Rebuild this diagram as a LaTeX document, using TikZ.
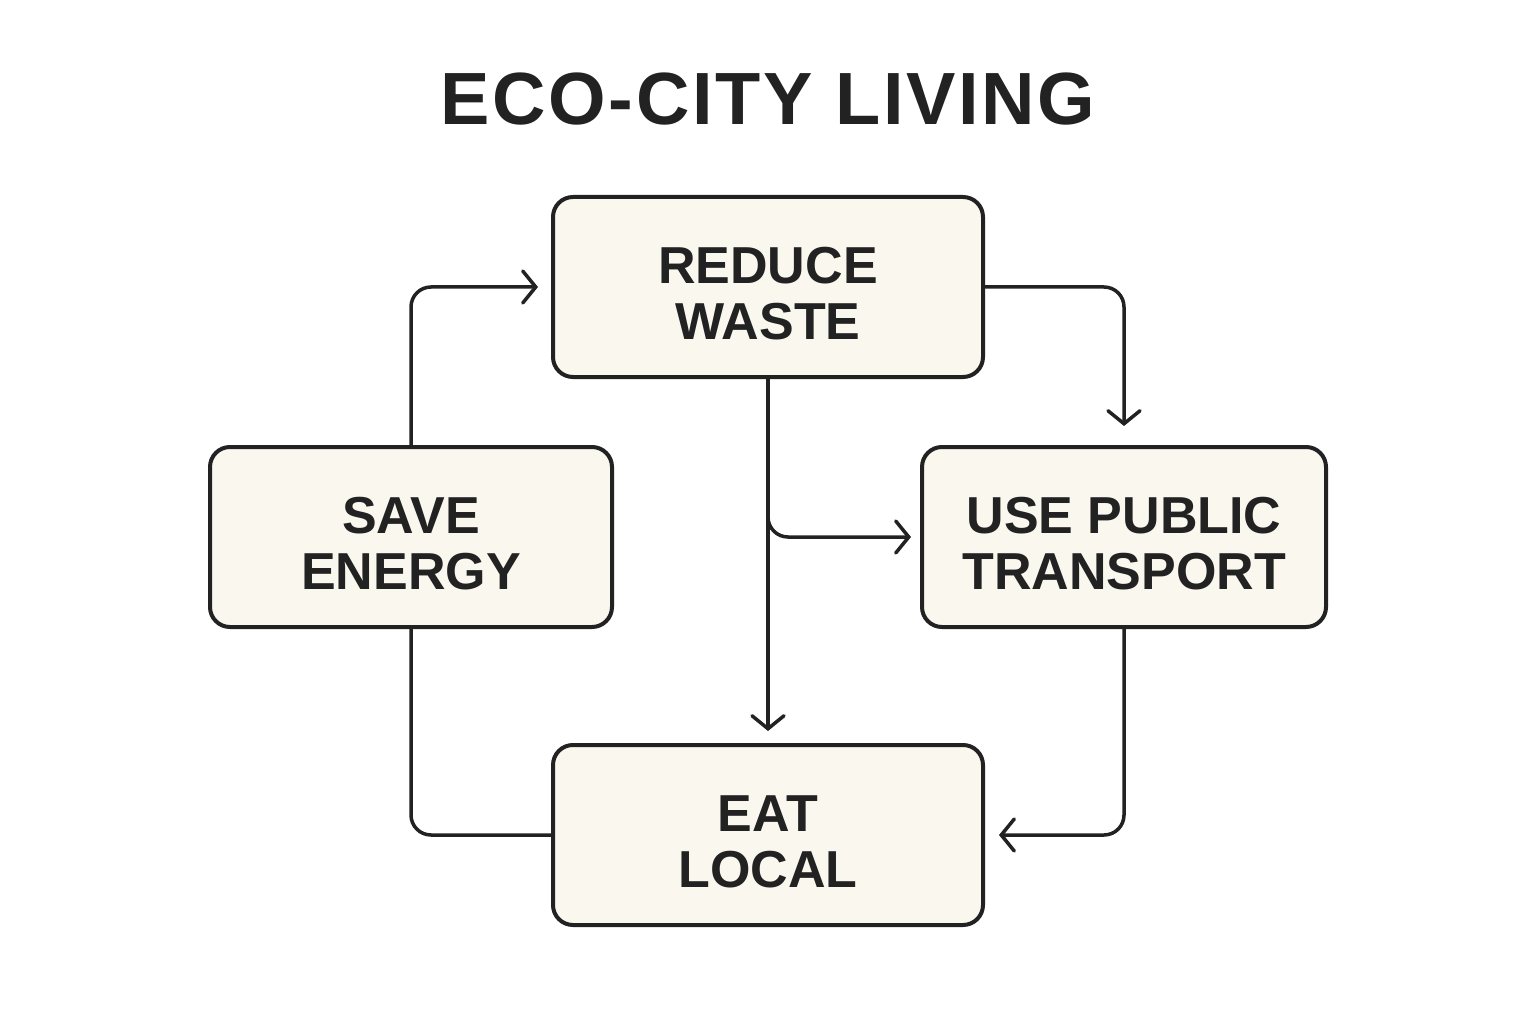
\documentclass[tikz,border=0pt]{standalone}
\usepackage{fontspec}
\setmainfont{Liberation Sans}
\usetikzlibrary{arrows.meta}
\definecolor{ink}{HTML}{222222}
\definecolor{cream}{HTML}{FAF7EE}
\newcommand{\toppad}{\rule{0pt}{49pt}}

\begin{document}
\begin{tikzpicture}[x=1pt, y=-1pt,
		stage/.style={draw=ink, fill=cream, rounded corners=20pt, line width=4pt,
			minimum height=180pt, align=center, text=ink,
			font=\bfseries\fontsize{52}{56}\selectfont},
		link/.style={draw=ink, line width=3.5pt, rounded corners=20pt,
			-{Straight Barb[length=13pt, width=32pt, line width=3.5pt, line cap=round]}}]
	\useasboundingbox (0,0) rectangle (1536,1024);
	% title
	\node[text=ink, font=\bfseries\fontsize{74}{80}\selectfont\addfontfeature{LetterSpace=3.5}] (title) at (768,99) {ECO-CITY LIVING};
	% the four boxes
	\node[stage, minimum width=430pt] (waste) at (768,287) {\toppad REDUCE\\WASTE};
	\node[stage, minimum width=402pt] (energy) at (411,537) {\toppad SAVE\\ENERGY};
	\node[stage, minimum width=404pt] (transport) at (1124,537) {\toppad USE PUBLIC\\TRANSPORT};
	\node[stage, minimum width=430pt] (food) at (768,835) {\toppad EAT\\LOCAL};
	% connectors
	\draw[link, shorten >=13pt] (energy.north) |- (waste.west);
	\draw[link, shorten >=19pt] (waste.east) -| (transport.north);
	\draw[link, shorten >=12pt] (waste.south) -- (food.north);
	\draw[link, shorten >=9pt] (waste.south) |- (transport.west);
	\draw[link, shorten >=14pt] (transport.south) |- (food.east);
	\draw[link, -] (energy.south) |- (food.west);
\end{tikzpicture}
\end{document}
